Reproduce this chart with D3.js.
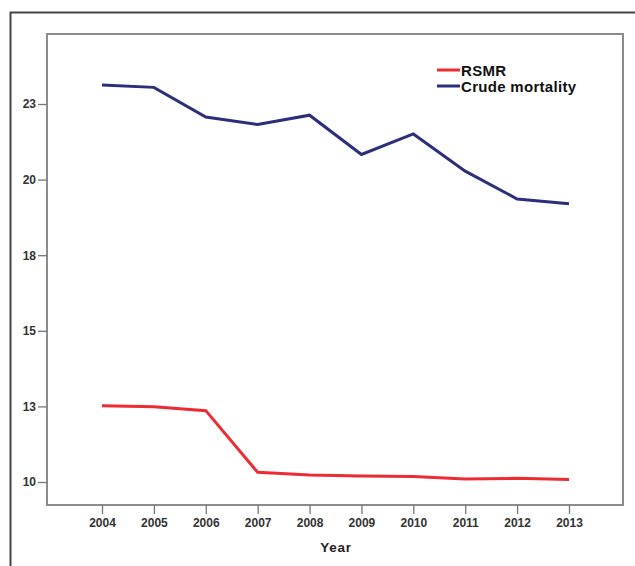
<!DOCTYPE html>
<html>
<head>
<meta charset="utf-8">
<script src="https://cdn.jsdelivr.net/npm/d3@7/dist/d3.min.js"></script>
<style>
  html, body { margin: 0; padding: 0; background: #fff; }
  svg { display: block; }
  text { font-family: "Liberation Sans", Arial, sans-serif; }
</style>
</head>
<body>
<svg id="chart" width="635" height="566"></svg>
<script>
const years = [2004, 2005, 2006, 2007, 2008, 2009, 2010, 2011, 2012, 2013];
const crudeMortality = [23.13, 23.05, 22.07, 21.82, 22.13, 20.83, 21.51, 20.28, 19.36, 19.20];
const rsmr = [12.52, 12.49, 12.36, 10.32, 10.23, 10.20, 10.18, 10.10, 10.12, 10.08];
const yTickValues = [10, 12.5, 15, 17.5, 20, 22.5];
const yTickLabels = ["10", "13", "15", "18", "20", "23"];
const seriesNames = ["RSMR", "Crude mortality"];
const seriesColors = ["#ee2a33", "#2c2e7c"];

const svg = d3.select("#chart");

// outer frame
svg.append("rect")
  .attr("x", 10.5).attr("y", 12.5)
  .attr("width", 640).attr("height", 600)
  .attr("fill", "none").attr("stroke", "#444").attr("stroke-width", 2);

const box = { left: 47, top: 34, right: 623, bottom: 505 };

const x = d3.scaleLinear().domain([2004, 2013]).range([102, 569]);
const y = d3.scaleLinear().domain([10, 22.5]).range([482, 104]);

// plot box
svg.append("rect")
  .attr("x", box.left).attr("y", box.top)
  .attr("width", box.right - box.left).attr("height", box.bottom - box.top)
  .attr("fill", "none").attr("stroke", "#8c8c8c").attr("stroke-width", 2);

// y axis
const yAxis = d3.axisLeft(y)
  .tickValues(yTickValues)
  .tickFormat((d, i) => yTickLabels[i])
  .tickSize(9).tickPadding(2);
const gy = svg.append("g").attr("transform", `translate(${box.left},0)`).call(yAxis);
gy.select(".domain").remove();
gy.selectAll(".tick line").attr("stroke", "#777").attr("stroke-width", 1.3);
gy.selectAll(".tick text").attr("font-size", 12).attr("font-weight", "bold").attr("fill", "#333")
  .attr("font-family", "Liberation Sans, Arial, sans-serif");

// x axis
const xAxis = d3.axisBottom(x)
  .tickValues(years)
  .tickFormat(d3.format("d"))
  .tickSize(9).tickPadding(4);
const gx = svg.append("g").attr("transform", `translate(0,${box.bottom})`).call(xAxis);
gx.select(".domain").remove();
gx.selectAll(".tick line").attr("stroke", "#777").attr("stroke-width", 1.3);
gx.selectAll(".tick text").attr("font-size", 12).attr("font-weight", "bold").attr("fill", "#333")
  .attr("font-family", "Liberation Sans, Arial, sans-serif");

// x title
svg.append("text")
  .attr("x", 336).attr("y", 552)
  .attr("text-anchor", "middle")
  .attr("font-size", 13.5).attr("font-weight", "bold").attr("fill", "#222")
  .attr("letter-spacing", 0.8)
  .text("Year");

// lines
const line = d3.line().x((d, i) => x(years[i])).y(d => y(d));
[rsmr, crudeMortality].forEach((s, k) => {
  svg.append("path")
    .datum(s)
    .attr("d", line)
    .attr("fill", "none")
    .attr("stroke", seriesColors[k])
    .attr("stroke-width", 3)
    .attr("stroke-linejoin", "miter");
});

// legend
const leg = svg.append("g").attr("transform", "translate(437,70)");
seriesNames.forEach((name, i) => {
  const g = leg.append("g").attr("transform", `translate(0,${i * 16})`);
  g.append("line").attr("x1", 0).attr("x2", 23).attr("y1", 0).attr("y2", 0)
    .attr("stroke", seriesColors[i]).attr("stroke-width", 3);
  g.append("text").attr("x", 24).attr("y", 5.5)
    .attr("font-size", 15).attr("font-weight", "bold").attr("fill", "#111")
    .attr("letter-spacing", 0.3)
    .text(name);
});
</script>
</body>
</html>
